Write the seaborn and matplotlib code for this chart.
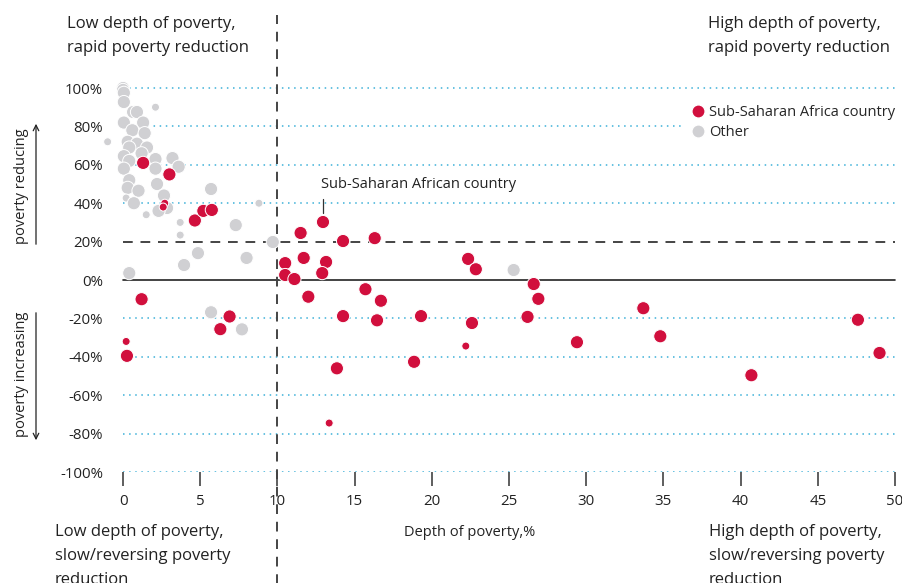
import matplotlib
matplotlib.use('Agg')
import matplotlib.pyplot as plt
import seaborn as sns
import pandas as pd
from matplotlib.lines import Line2D

# Depth of poverty (%) vs. poverty reduction (%)
x_other = [0.0, 0.0, 0.05, 0.05, 2.1, 0.65, 0.9, 0.05, 1.3, 0.6, 1.4, -1.0, 0.3, 0.9,
           1.55, 0.4, 1.2, 0.05, 0.4, 2.1, 3.2, 0.05, 2.1, 3.6, 0.4, 2.2, 0.3, 1.0,
           5.7, 2.65, 0.2, 0.7, 8.8, 2.85, 2.3, 1.5, 3.7, 7.3, 3.7, 9.7, 4.85, 8.0,
           3.95, 0.4, 5.7, 7.7, 25.3]
y_other = [100, 99, 97.5, 92.7, 90, 87.5, 87.5, 82, 82, 78, 76.5, 72, 72, 71,
           69, 69, 66, 64.5, 62, 63, 63.5, 58, 58, 59, 52, 50, 48, 46.5,
           47.4, 44, 42.7, 40, 40, 37.5, 36, 34, 30, 28.6, 23.4, 19.8, 14, 11.5,
           7.8, 3.6, -16.8, -25.7, 5.2]
pop_other = ['large'] * len(x_other)
for i in [4, 11, 30, 32, 35, 36, 38]:
    pop_other[i] = 'small'

x_ssa = [1.3, 3.0, 2.7, 2.6, 4.65, 5.2, 5.75, 1.2, 6.9, 6.3, 0.2, 0.25, 12.95, 11.5,
         14.25, 16.3, 10.5, 11.7, 13.15, 10.5, 12.9, 11.1, 12.0, 15.7, 16.7, 14.25,
         16.45, 19.3, 18.85, 13.85, 22.35, 22.85, 22.6, 22.2, 26.6, 26.9, 26.2, 13.35,
         33.7, 34.8, 29.4, 40.7, 47.6, 49.0]
y_ssa = [61, 55, 40, 38, 31, 36, 36.5, -10, -19, -25.6, -32, -39.5, 30.2, 24.5,
         20.3, 21.8, 8.8, 11.5, 9.4, 2.6, 3.6, 0.5, -8.7, -4.8, -10.8, -18.8,
         -21, -18.8, -42.6, -46, 11, 5.6, -22.4, -34.4, -2.1, -9.8, -19.2, -74.5,
         -14.7, -29.3, -32.4, -49.6, -20.7, -38]
pop_ssa = ['large'] * len(x_ssa)
for i in [2, 3, 10, 33, 37]:
    pop_ssa[i] = 'small'

y_ticks = [100, 80, 60, 40, 20, 0, -20, -40, -60, -80, -100]
x_ticks = [0, 5, 10, 15, 20, 25, 30, 35, 40, 45, 50]

RED = '#d10f3d'
GREY = '#d0d0d3'
BLUE = '#3cb0d8'

df = pd.DataFrame({
    'depth': x_other + x_ssa,
    'change': y_other + y_ssa,
    'group': ['Other'] * len(x_other) + ['Sub-Saharan Africa country'] * len(x_ssa),
    'pop': pop_other + pop_ssa,
})

sns.set_style('white')
plt.rcParams['font.family'] = ['Open Sans', 'DejaVu Sans']

fig = plt.figure(figsize=(9.03, 5.83), dpi=100)
W, H = 903, 583
ax = fig.add_axes([103 / W, 1 - 472 / H, (899.6 - 103) / W, (472 - 76.5) / H])
ax.set_xlim(-1.3, 50.3)
ax.set_ylim(-100, 106)

# reference lines
for v in [100, 80, 60, 40, -20, -40, -60, -80, -100]:
    ax.plot([0, 50], [v, v], color=BLUE, lw=1.1, ls=(0, (1, 3)), zorder=1)
ax.plot([0, 50], [0, 0], color='#222222', lw=1.2, zorder=1)
ax.plot([0, 50], [20, 20], color='#444444', lw=1.4, ls=(0, (5, 4)), zorder=1)
ax.plot([10, 10], [-160, 138], color='#444444', lw=1.4, ls=(0, (5, 4)),
        zorder=1, clip_on=False)

sns.scatterplot(data=df, x='depth', y='change', hue='group',
                palette={'Other': GREY, 'Sub-Saharan Africa country': RED},
                size='pop', sizes={'large': 90, 'small': 33},
                edgecolor='white', linewidth=0.7, alpha=1, legend=False,
                ax=ax, zorder=3, clip_on=False)

for s in ax.spines.values():
    s.set_visible(False)
ax.set_yticks(y_ticks)
ax.set_yticklabels([f'{v}%' for v in y_ticks])
ax.set_xticks(x_ticks)
ax.tick_params(axis='y', length=0, pad=0, labelsize=10.8, labelcolor='#222222')
ax.tick_params(axis='x', direction='out', length=10, width=1.1, color='#333333',
               pad=6, labelsize=10.8, labelcolor='#222222', bottom=True)
ax.set_xlabel('')
ax.set_ylabel('')
ax.grid(False)

# annotation
ax.text(12.8, 49.5, 'Sub-Saharan African country', fontsize=10.5, color='#222222',
        va='center', ha='left')
ax.plot([12.95, 12.95], [42, 35], color='#333333', lw=0.9)

# legend
handles = [Line2D([], [], marker='o', ls='', color=RED, markersize=9.5, markeredgecolor='white'),
           Line2D([], [], marker='o', ls='', color=GREY, markersize=9.5, markeredgecolor='white')]
leg = ax.legend(handles, ['Sub-Saharan Africa country', 'Other'], loc='upper left',
                bbox_to_anchor=(678 / W, 1 - 93 / H), bbox_transform=fig.transFigure,
                frameon=True, fontsize=10.5, handletextpad=0.1, labelspacing=0.35,
                borderpad=0.3, handlelength=1.2)
leg.get_frame().set_facecolor('white')
leg.get_frame().set_edgecolor('none')
leg.get_frame().set_alpha(1)
leg.get_frame().set_boxstyle('square', pad=0)

# corner labels
cfont = dict(fontsize=12, color='#222222', linespacing=1.65, va='top', ha='left')
fig.text(67 / W, 1 - 16 / H, 'Low depth of poverty,\nrapid poverty reduction', **cfont)
fig.text(708 / W, 1 - 16 / H, 'High depth of poverty,\nrapid poverty reduction', **cfont)
fig.text(55 / W, 1 - 524 / H, 'Low depth of poverty,\nslow/reversing poverty\nreduction', **cfont)
fig.text(709 / W, 1 - 524 / H, 'High depth of poverty,\nslow/reversing poverty\nreduction', **cfont)
fig.text(470 / W, 1 - 533 / H, 'Depth of poverty,%', fontsize=10.5, color='#222222',
         ha='center', va='center')

# side labels with arrows
fig.text(22 / W, 1 - 186 / H, 'poverty reducing', rotation=90, fontsize=10.5,
         color='#222222', ha='center', va='center')
fig.text(22 / W, 1 - 374 / H, 'poverty increasing', rotation=90, fontsize=10.5,
         color='#222222', ha='center', va='center')
fig.add_artist(matplotlib.patches.FancyArrowPatch(
    (36 / W, 1 - 247 / H), (36 / W, 1 - 121 / H), transform=fig.transFigure,
    arrowstyle='->', mutation_scale=10, lw=0.9, color='#222222'))
fig.add_artist(matplotlib.patches.FancyArrowPatch(
    (36 / W, 1 - 310 / H), (36 / W, 1 - 443 / H), transform=fig.transFigure,
    arrowstyle='->', mutation_scale=10, lw=0.9, color='#222222'))

fig.savefig('out.png', dpi=100)
